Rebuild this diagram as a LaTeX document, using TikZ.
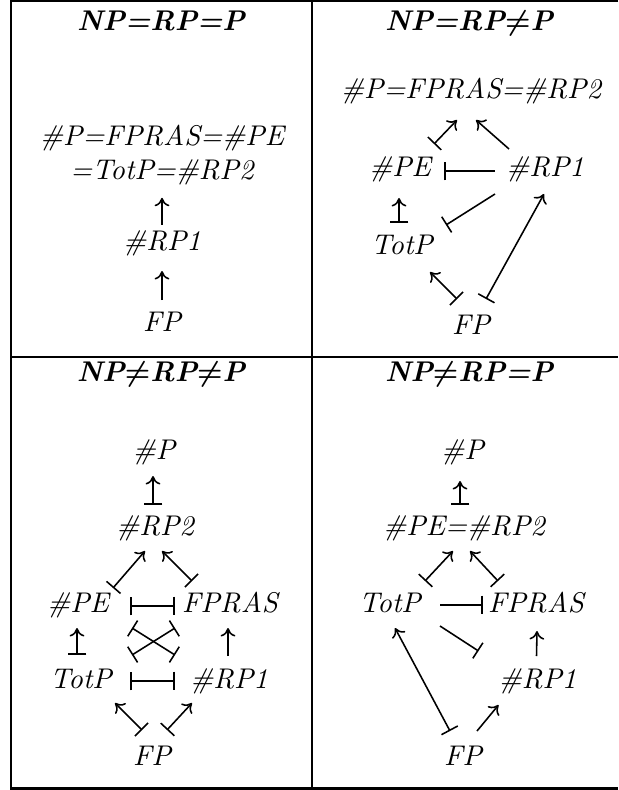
\documentclass[tikz,border=0pt]{standalone}
\usetikzlibrary{arrows.meta}

\tikzset{
	cls/.style={font=\itshape, inner sep=3pt, anchor=base},
	hd/.style={font=\bfseries\itshape\boldmath, anchor=base},
	rule/.style={line width=0.75pt},
	inc/.style={-{Computer Modern Rightarrow[length=3pt,width=5.2pt]}},
	mapsto/.style={{Bar[width=6.5pt]}-{Computer Modern Rightarrow[length=3pt,width=5.2pt]}},
	barbar/.style={{Bar[width=6.5pt]}-{Bar[width=6.5pt]}},
	tailbar/.style={{Bar[width=6.5pt]}-},
	headbar/.style={-{Bar[width=6.5pt]}}
}

\begin{document}
\begin{tikzpicture}[x=0.351pt, y=-0.351pt, line width=0.55pt]
			\useasboundingbox (0,0) rectangle (618,790);
			\draw[rule] (618,1) -- (11,1) -- (11,788.5) -- (618,788.5);
			\draw[rule] (312,1) -- (312,788.5);
			\draw[rule] (11,357) -- (618,357);

			\node (tlhead) [hd] at (161,31) {NP=RP=P};
			\node (tltop) [font=\itshape, align=center, anchor=north, inner sep=3pt] at (162,116) {\#P=FPRAS=\#PE\\=TotP=\#RP2};
			\node (tlrpone) [cls] at (162,251) {\#RP1};
			\node (tlfp) [cls] at (162,331) {FP};

			\path[inc] ([shift={(0,-26)}]tlrpone.base) edge ([shift={(0,3)}]tltop.south)
			([shift={(0,-31)}]tlfp.base) edge ([shift={(0,20)}]tlrpone.base);

			\node (trhead) [hd] at (469,31) {NP=RP$\neq$P};
			\node (trtop) [cls] at (471,99) {\#P=FPRAS=\#RP2};
			\node (trpe) [cls] at (400,177) {\#PE};
			\node (trrpone) [cls] at (545,177) {\#RP1};
			\node (trtotp) [cls] at (402,255) {TotP};
			\node (trfp) [cls] at (471,334) {FP};

			\path[mapsto] ([shift={(34,-33)}]trpe.base) edge ([shift={(-14,21)}]trtop.base)
			([shift={(-3,-32)}]trtotp.base) edge ([shift={(-1,21)}]trpe.base)
			([shift={(-14,-35)}]trfp.base) edge ([shift={(28,17)}]trtotp.base)
			([shift={(15,-35)}]trfp.base) edge ([shift={(-1,17)}]trrpone.base);
			\path[inc] ([shift={(-36,-28)}]trrpone.base) edge ([shift={(5,21)}]trtop.base);
			\path[tailbar] ([shift={(44,-6)}]trpe.base) edge ([shift={(-50,-6)}]trrpone.base)
			([shift={(44,-30)}]trtotp.base) edge ([shift={(-50,17)}]trrpone.base);

			\node (blhead) [hd] at (161,381) {NP$\neq$RP$\neq$P};
			\node (blp) [cls] at (154,459) {\#P};
			\node (blrptwo) [cls] at (155,535) {\#RP2};
			\node (blpe) [cls] at (78,612) {\#PE};
			\node (blfpras) [cls] at (230,612) {FPRAS};
			\node (bltotp) [cls] at (81,688) {TotP};
			\node (blrpone) [cls] at (229,688) {\#RP1};
			\node (blfp) [cls] at (152,765) {FP};

			\path[mapsto] ([shift={(-2,-30)}]blrptwo.base) edge ([shift={(-1,17)}]blp.base)
			([shift={(35,-24)}]blpe.base) edge ([shift={(-10,16)}]blrptwo.base)
			([shift={(-38,-31)}]blfpras.base) edge ([shift={(7,16)}]blrptwo.base)
			([shift={(-4,-33)}]bltotp.base) edge ([shift={(-1,16)}]blpe.base)
			([shift={(-10,-35)}]blfp.base) edge ([shift={(34,15)}]bltotp.base)
			([shift={(15,-35)}]blfp.base) edge ([shift={(-37,15)}]blrpone.base);
			\path[inc] ([shift={(-1,-32)}]blrpone.base) edge ([shift={(-2,16)}]blfpras.base);
			\path[barbar] ([shift={(52,-6)}]blpe.base) edge ([shift={(-55,-6)}]blfpras.base)
			([shift={(49,-7)}]bltotp.base) edge ([shift={(-54,-7)}]blrpone.base)
			([shift={(54,16)}]blpe.base) edge ([shift={(-54,-33)}]blrpone.base)
			([shift={(51,-33)}]bltotp.base) edge ([shift={(-55,16)}]blfpras.base);

			\node (brhead) [hd] at (469,381) {NP$\neq$RP=P};
			\node (brp) [cls] at (462.5,459) {\#P};
			\node (brlabel) [cls] at (464,535) {\#PE=\#RP2};
			\node (brtotp) [cls] at (390,612) {TotP};
			\node (brfpras) [cls] at (536,612) {FPRAS};
			\node (brrpone) [cls] at (537.5,688) {\#RP1};
			\node (brfp) [cls] at (463,765) {FP};

			\path[mapsto] ([shift={(-4,-30)}]brlabel.base) edge ([shift={(-2.5,22)}]brp.base)
			([shift={(35,-31)}]brtotp.base) edge ([shift={(-11,16)}]brlabel.base)
			([shift={(-38,-31)}]brfpras.base) edge ([shift={(6,16)}]brlabel.base)
			([shift={(-13,-34)}]brfp.base) edge ([shift={(5,16)}]brtotp.base);
			\path[inc] ([shift={(-1,-32)}]brrpone.base) edge ([shift={(1,19)}]brfpras.base)
			([shift={(14,-34)}]brfp.base) edge ([shift={(-39,17)}]brrpone.base);
			\path[headbar] ([shift={(50,-7)}]brtotp.base) edge ([shift={(-53,-7)}]brfpras.base)
			([shift={(50,14)}]brtotp.base) edge ([shift={(-59,-37)}]brrpone.base);
		\end{tikzpicture}
\end{document}
